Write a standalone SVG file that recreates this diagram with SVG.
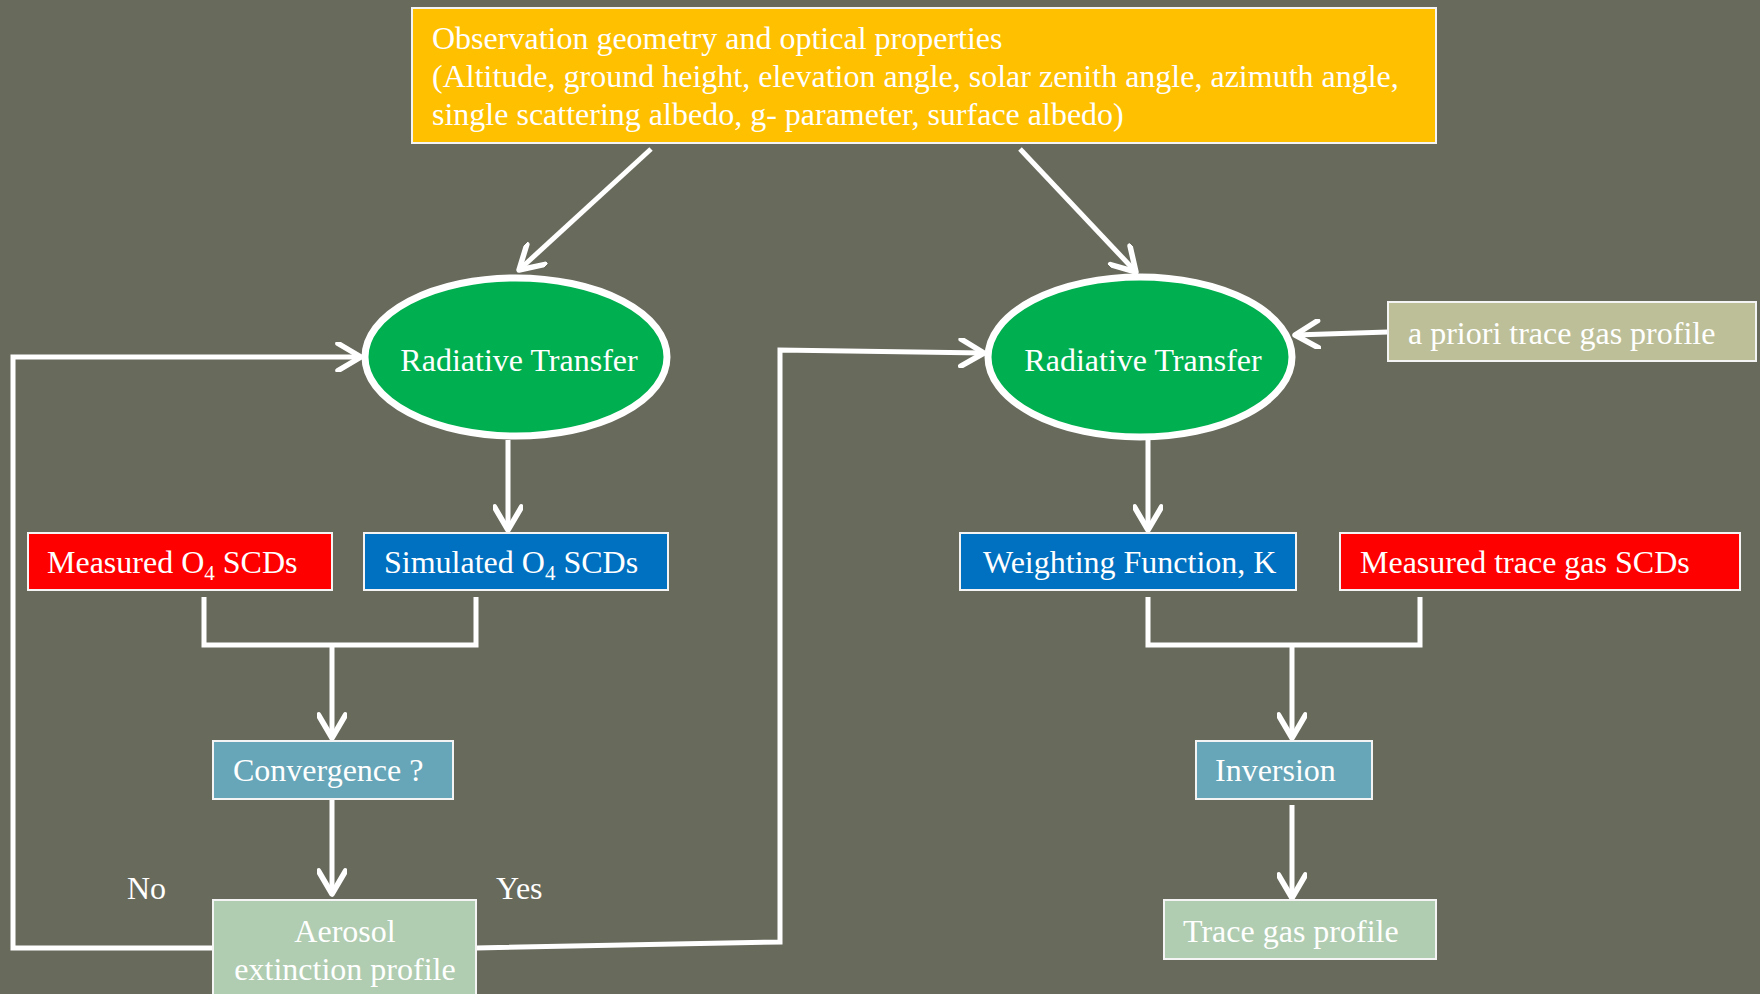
<svg xmlns="http://www.w3.org/2000/svg" width="1760" height="994" viewBox="0 0 1760 994">
<style>
text{font-family:"Liberation Serif","Times New Roman",serif;font-size:32px;fill:#ffffff}
.box{stroke:#f4f4f4;stroke-width:2}
.ell{fill:#00b050;stroke:#ffffff;stroke-width:7}
.con{fill:none;stroke:#ffffff;stroke-width:5}
.arr{marker-end:url(#ah)}
</style>
<defs>
<marker id="ah" markerUnits="userSpaceOnUse" viewBox="0 0 30 30" refX="26" refY="15" markerWidth="30" markerHeight="30" orient="auto">
<path d="M3,1.5 L26,15 L3,28.5" fill="none" stroke="#ffffff" stroke-width="5.5" stroke-linecap="round" stroke-linejoin="round"/>
</marker>
</defs>
<rect x="0" y="0" width="1760" height="994" fill="#686a5c"/>

<g id="connectors">
<line class="con arr" x1="651" y1="149" x2="519" y2="270"/>
<line class="con arr" x1="1020" y1="149" x2="1136" y2="272"/>
<line class="con arr" x1="508" y1="440" x2="508" y2="530"/>
<line class="con arr" x1="1148" y1="440" x2="1148" y2="530"/>
<line class="con arr" x1="1388" y1="332" x2="1295" y2="335"/>
<polyline class="con" points="204,597 204,645 476,645 476,597"/>
<line class="con arr" x1="332" y1="645" x2="332" y2="738"/>
<line class="con arr" x1="332" y1="799" x2="332" y2="894"/>
<polyline class="con" points="1148,597 1148,645 1420,645 1420,597"/>
<line class="con arr" x1="1292" y1="645" x2="1292" y2="738"/>
<line class="con arr" x1="1292" y1="805" x2="1292" y2="898"/>
<polyline class="con arr" points="213,948 13,948 13,357 361,357"/>
<polyline class="con arr" points="476,948 780,942 780,350 984,353"/>
</g>

<g id="geometry">
<rect class="box" x="412" y="8" width="1024" height="135" fill="#ffc000"/>
<text x="432" y="49">Observation geometry and optical properties</text>
<text x="432" y="87">(Altitude, ground height, elevation angle, solar zenith angle, azimuth angle,</text>
<text x="432" y="125">single scattering albedo, g- parameter, surface albedo)</text>
</g>

<g id="rt-left">
<ellipse class="ell" cx="516" cy="357" rx="151" ry="79"/>
<text x="519" y="371" text-anchor="middle">Radiative Transfer</text>
</g>

<g id="rt-right">
<ellipse class="ell" cx="1140" cy="357" rx="152" ry="80"/>
<text x="1143" y="371" text-anchor="middle">Radiative Transfer</text>
</g>

<g id="apriori">
<rect class="box" x="1388" y="302" width="368" height="59" fill="#bdbf98"/>
<text x="1408" y="344">a priori trace gas profile</text>
</g>

<g id="measured-o4">
<rect class="box" x="28" y="533" width="304" height="57" fill="#ff0000"/>
<text x="47" y="573">Measured O<tspan font-size="21" dy="7">4</tspan><tspan dy="-7"> SCDs</tspan></text>
</g>

<g id="simulated-o4">
<rect class="box" x="364" y="533" width="304" height="57" fill="#0070c0"/>
<text x="384" y="573">Simulated O<tspan font-size="21" dy="7">4</tspan><tspan dy="-7"> SCDs</tspan></text>
</g>

<g id="convergence">
<rect class="box" x="213" y="741" width="240" height="58" fill="#66a6b8"/>
<text x="233" y="781">Convergence ?</text>
</g>

<g id="aerosol">
<rect class="box" x="213" y="900" width="263" height="110" fill="#b0cdb1"/>
<text x="345" y="942" text-anchor="middle">Aerosol</text>
<text x="345" y="980" text-anchor="middle">extinction profile</text>
</g>

<g id="labels">
<text x="127" y="899">No</text>
<text x="496" y="899">Yes</text>
</g>

<g id="weighting">
<rect class="box" x="960" y="533" width="336" height="57" fill="#0070c0"/>
<text x="983" y="573">Weighting Function, K</text>
</g>

<g id="measured-trace">
<rect class="box" x="1340" y="533" width="400" height="57" fill="#ff0000"/>
<text x="1360" y="573">Measured trace gas SCDs</text>
</g>

<g id="inversion">
<rect class="box" x="1196" y="741" width="176" height="58" fill="#66a6b8"/>
<text x="1215" y="781">Inversion</text>
</g>

<g id="trace-profile">
<rect class="box" x="1164" y="900" width="272" height="59" fill="#b0cdb1"/>
<text x="1183" y="942">Trace gas profile</text>
</g>
</svg>
